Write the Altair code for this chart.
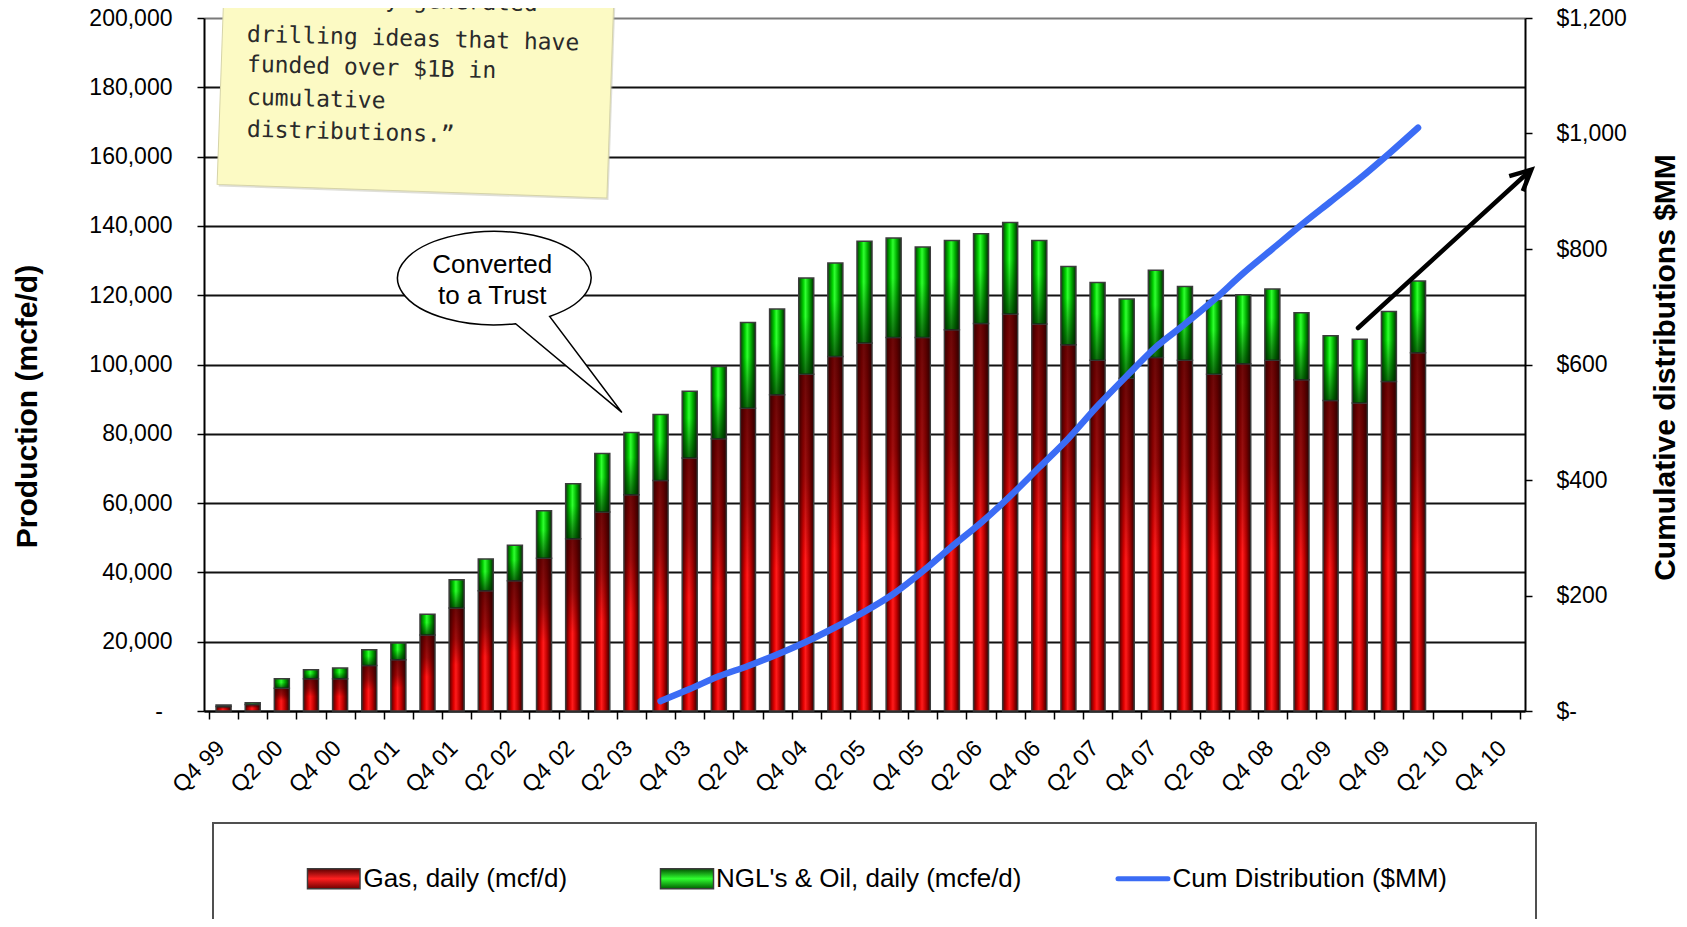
import altair as alt
import pandas as pd

# ---------------- data ----------------
quarters = ["Q4 99", "Q1 00", "Q2 00", "Q3 00", "Q4 00", "Q1 01", "Q2 01", "Q3 01", "Q4 01",
            "Q1 02", "Q2 02", "Q3 02", "Q4 02", "Q1 03", "Q2 03", "Q3 03", "Q4 03",
            "Q1 04", "Q2 04", "Q3 04", "Q4 04", "Q1 05", "Q2 05", "Q3 05", "Q4 05",
            "Q1 06", "Q2 06", "Q3 06", "Q4 06", "Q1 07", "Q2 07", "Q3 07", "Q4 07",
            "Q1 08", "Q2 08", "Q3 08", "Q4 08", "Q1 09", "Q2 09", "Q3 09", "Q4 09",
            "Q1 10", "Q2 10", "Q3 10", "Q4 10"]

gas_mcfd = [1300, 1900, 6600, 9300, 9300, 13100, 14800, 21900, 29700,
            34700, 37600, 44100, 49700, 57400, 62400, 66500, 73000,
            78600, 87400, 91300, 97200, 102300, 106200, 107800, 107800,
            110000, 111800, 114600, 111700, 105700, 101200, 96000, 102000,
            101200, 97200, 100200, 101200, 95600, 89600, 88900, 95100,
            103400]

ngl_mcfed = [400, 500, 2700, 2600, 3100, 4600, 4800, 6000, 8200,
             9200, 10200, 13700, 15900, 16900, 18000, 19100, 19300,
             20800, 24700, 24700, 27800, 27000, 29400, 28700, 26100,
             25800, 25900, 26400, 24100, 22600, 22500, 22900, 25200,
             21300, 21300, 19900, 20600, 19300, 18700, 18400, 20200,
             20700]

cum_start_quarter = "Q3 03"
cum_dist_mm = [17, 38, 60, 78, 98, 120, 145, 172, 203, 242, 285, 326, 372,
               422, 472, 528, 580, 630, 670, 712, 758, 800, 842, 882, 922,
               965, 1010]

left_ticks = [0, 20000, 40000, 60000, 80000, 100000, 120000, 140000, 160000, 180000, 200000]
right_ticks = [0, 200, 400, 600, 800, 1000, 1200]
zero_label = "-"

note_lines = ["\u201cInternally generated", "drilling ideas that have", "funded over $1B in",
              "cumulative", "distributions.\u201d"]
callout_lines = ["Converted", "to a Trust"]
legend_labels = ["Gas, daily (mcf/d)", "NGL's & Oil, daily (mcfe/d)", "Cum Distribution ($MM)"]

# ---------------- tables ----------------
bars = pd.DataFrame({
    "i": list(range(len(gas_mcfd))),
    "quarter": quarters[:len(gas_mcfd)],
    "gas": gas_mcfd,
    "total": [g + n for g, n in zip(gas_mcfd, ngl_mcfed)],
})
s0 = quarters.index(cum_start_quarter)
cum = pd.DataFrame({"i": list(range(s0, s0 + len(cum_dist_mm))), "cum": cum_dist_mm})
xlabels = pd.DataFrame({"i": [k for k in range(len(quarters)) if k % 2 == 0],
                        "quarter": [q for k, q in enumerate(quarters) if k % 2 == 0]})
one = pd.DataFrame({"k": [0]})

# ---------------- layout ----------------
W, H = 1321, 693
PAD = {"left": 196, "top": 10, "right": 154, "bottom": 208}
NQ = len(quarters)
FONT = "Liberation Sans"

xs = alt.Scale(domain=[-0.5, NQ - 0.5], nice=False, zero=False)
ys = alt.Scale(domain=[0, 200000], nice=False, zero=True)
ys2 = alt.Scale(domain=[0, 1200], nice=False, zero=True)

x_axis = alt.Axis(
    values=[k - 0.5 for k in range(NQ + 1)], labels=False,
    tickSize=8, tickWidth=1.5, tickColor="black",
    domainColor="black", domainWidth=2, grid=False, title=None, orient="bottom",
)
left_axis = alt.Axis(
    values=left_ticks, orient="left",
    labelExpr="datum.value == 0 ? '' : format(datum.value, ',')",
    labelFontSize=23, labelPadding=25, tickSize=7, tickWidth=1.5, tickColor="black",
    domainColor="black", domainWidth=2,
    grid=True, gridWidth=1.8,
    gridColor={"condition": {"test": "datum.value == 200000", "value": "#7a7a7a"},
               "value": "#111111"},
    title="Production (mcfe/d)", titleFontSize=30, titleFontWeight="bold",
    titleAngle=270, titleX=-177, titleY=388, titleAlign="center", titleBaseline="middle",
)
right_axis = alt.Axis(
    values=right_ticks, orient="right",
    labelExpr="datum.value == 0 ? '$-' : '$' + format(datum.value, ',')",
    labelFontSize=23, labelPadding=24, tickSize=7, tickWidth=1.5, tickColor="black",
    domainColor="black", domainWidth=2, grid=False,
    title="Cumulative distributions $MM", titleFontSize=30, titleFontWeight="bold",
    titleAngle=270, titleX=140, titleY=349, titleAlign="center", titleBaseline="middle",
)

def grad(stops, vertical=False):
    return alt.Gradient(gradient="linear", x1=0, y1=0,
                        x2=0 if vertical else 1, y2=1 if vertical else 0,
                        stops=[alt.GradientStop(color=c, offset=o) for o, c in stops])

gas_h = grad([(0, "#4a0000"), (0.3, "#e00000"), (0.45, "#ff1c1c"), (0.7, "#c00000"), (1, "#2e0000")])
gas_v = grad([(0, "rgba(45,0,0,0.7)"), (0.3, "rgba(45,0,0,0.45)"), (0.55, "rgba(45,0,0,0)"),
              (1, "rgba(45,0,0,0)")], vertical=True)
ngl_h = grad([(0, "#004000"), (0.3, "#00d000"), (0.45, "#30ff30"), (0.7, "#00b000"), (1, "#002800")])
ngl_v = grad([(0, "rgba(0,30,0,0)"), (0.4, "rgba(0,30,0,0)"), (1, "rgba(0,30,0,0.65)")], vertical=True)
gas_sw = grad([(0, "#5a0000"), (0.5, "#ff2020"), (1, "#700000")], vertical=True)
ngl_sw = grad([(0, "#005000"), (0.5, "#30ff30"), (1, "#006000")], vertical=True)

BAR = 15
STROKE = "#3c3c3c"
BLUE = "#3b6cf5"

gas_layer = alt.Chart(bars).mark_bar(size=BAR, fill=gas_h, stroke=STROKE, strokeWidth=1.5,
                                     orient="vertical").encode(
    x=alt.X("i:Q", scale=xs, axis=x_axis),
    y=alt.Y("gas:Q", scale=ys, axis=left_axis),
)
gas_shade = alt.Chart(bars).mark_bar(size=BAR - 1.5, fill=gas_v, strokeWidth=0,
                                     orient="vertical").encode(
    x=alt.X("i:Q", scale=xs, axis=x_axis),
    y=alt.Y("gas:Q", scale=ys, axis=None),
)
ngl_layer = alt.Chart(bars).mark_bar(size=BAR, fill=ngl_h, stroke=STROKE, strokeWidth=1.5,
                                     orient="vertical").encode(
    x=alt.X("i:Q", scale=xs, axis=x_axis),
    y=alt.Y("total:Q", scale=ys, axis=None),
    y2="gas:Q",
)
ngl_shade = alt.Chart(bars).mark_bar(size=BAR - 1.5, fill=ngl_v, strokeWidth=0,
                                     orient="vertical").encode(
    x=alt.X("i:Q", scale=xs, axis=x_axis),
    y=alt.Y("total:Q", scale=ys, axis=None),
    y2="gas:Q",
)
cum_line = alt.Chart(cum).mark_line(color=BLUE, strokeWidth=6.5, strokeCap="round",
                                    strokeJoin="round", interpolate="monotone").encode(
    x=alt.X("i:Q", scale=xs, axis=x_axis),
    y=alt.Y("cum:Q", scale=ys2, axis=right_axis),
)
x_text = alt.Chart(xlabels).mark_text(font=FONT, fontSize=23, angle=315, align="right",
                                      baseline="middle", color="black", xOffset=-2.5).encode(
    x=alt.X("i:Q", scale=xs, axis=x_axis),
    y=alt.value(H + 33.7),
    text="quarter:N",
)
zero_txt = alt.Chart(one).mark_text(font=FONT, fontSize=23, align="right", baseline="middle",
                                    color="black").encode(
    x=alt.value(-41), y=alt.value(H + 1), text=alt.value(zero_label))

# ---------------- annotations ----------------
arrow_shaft = alt.Chart(one).mark_rule(color="black", strokeWidth=4.5, strokeCap="round").encode(
    x=alt.value(1154), y=alt.value(310), x2=alt.value(1325), y2=alt.value(153.6))
arrow_head = alt.Chart(one).mark_point(
    shape="M -0.438 0.899 L 0 0 L 0.438 0.899", size=2116, angle=47.6, filled=False,
    color="black", strokeWidth=4.5, opacity=1, strokeJoin="miter").encode(
    x=alt.value(1327.3), y=alt.value(151.7))

bubble_path = "M 0.593 0.387 A 1 0.483 0 1 0 0.241 0.462 L 1.34 1.38 Z"
bubble = alt.Chart(one).mark_point(
    shape=bubble_path, size=37404, filled=True, fill="white", stroke="black",
    strokeWidth=1.5, opacity=1, fillOpacity=1, strokeOpacity=1).encode(
    x=alt.value(288.3), y=alt.value(261))
callout_y = [246.7, 277.7]
callout_txt = [alt.Chart(one).mark_text(font=FONT, fontSize=26, align="center", baseline="middle",
                                        color="black").encode(
    x=alt.value(288.3), y=alt.value(yv), text=alt.value(t)) for t, yv in zip(callout_lines, callout_y)]

note_shadow = alt.Chart(one).mark_point(
    shape="M -1 -0.531 L 1 -0.531 L 1 0.531 L -1 0.531 Z", size=152100, angle=2,
    filled=True, fill="#b8b8a8", opacity=0.45, strokeWidth=0).encode(
    x=alt.value(213.2), y=alt.value(71.8))
note = alt.Chart(one).mark_point(
    shape="M -1 -0.531 L 1 -0.531 L 1 0.531 L -1 0.531 Z", size=152100, angle=2,
    filled=True, fill="#fcfac4", stroke="#d6d4a8", strokeWidth=1, opacity=1,
    fillOpacity=1, strokeOpacity=1).encode(
    x=alt.value(211.6), y=alt.value(69.7))
note_y = [-21.5, 16.7, 46.7, 79.7, 111.7]
note_txt = [alt.Chart(one).mark_text(font="DejaVu Sans Mono", fontSize=23, align="left",
                                     baseline="middle", angle=1.5, color="#2a2a2a").encode(
    x=alt.value(43), y=alt.value(yv), text=alt.value(t)) for t, yv in zip(note_lines, note_y)]

# ---------------- legend (bottom box) ----------------
leg_y = 860.7
leg_box = alt.Chart(one).mark_rect(fill="white", stroke="#505050", strokeWidth=2).encode(
    x=alt.value(9), x2=alt.value(1332), y=alt.value(805), y2=alt.value(960))
sw_gas = alt.Chart(one).mark_rect(fill=gas_sw, stroke=STROKE, strokeWidth=1.5).encode(
    x=alt.value(103.5), x2=alt.value(156), y=alt.value(leg_y - 10), y2=alt.value(leg_y + 10))
sw_ngl = alt.Chart(one).mark_rect(fill=ngl_sw, stroke=STROKE, strokeWidth=1.5).encode(
    x=alt.value(456.5), x2=alt.value(509.5), y=alt.value(leg_y - 10), y2=alt.value(leg_y + 10))
sw_cum = alt.Chart(one).mark_rule(color=BLUE, strokeWidth=5, strokeCap="round").encode(
    x=alt.value(914), x2=alt.value(964), y=alt.value(leg_y))
leg_x = [159.5, 512, 968.5]
leg_txt = [alt.Chart(one).mark_text(font=FONT, fontSize=26, align="left", baseline="middle",
                                    color="black").encode(
    x=alt.value(xv), y=alt.value(leg_y), text=alt.value(t)) for t, xv in zip(legend_labels, leg_x)]

chart = alt.layer(
    gas_layer, gas_shade, ngl_layer, ngl_shade, cum_line, x_text, zero_txt,
    arrow_shaft, arrow_head, bubble, *callout_txt,
    note_shadow, note, *note_txt,
    leg_box, sw_gas, sw_ngl, sw_cum, *leg_txt,
).resolve_scale(y="independent").properties(
    width=W, height=H, padding=PAD, autosize=alt.AutoSizeParams(type="none"),
    background="white",
).configure_view(stroke=None).configure_axis(
    labelFont=FONT, titleFont=FONT, labelColor="black", titleColor="black",
)

chart.save("out.html", embed_options={"renderer": "svg", "actions": False})
